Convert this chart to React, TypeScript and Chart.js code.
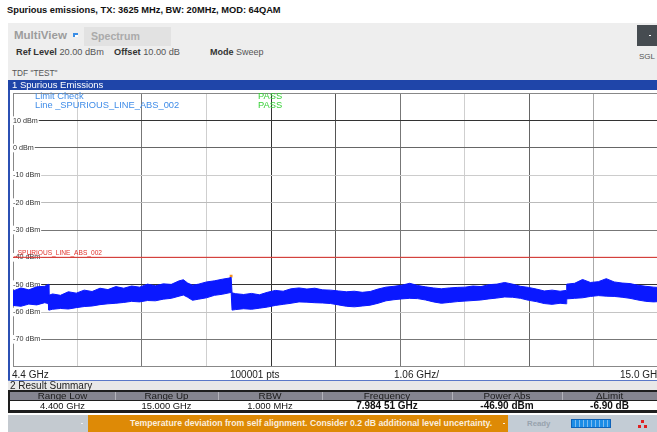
import React, { useEffect, useRef } from "react";
import { Chart, registerables } from "chart.js";

Chart.register(...registerables);

// ---- data ----
const freqGHz = [
  4.4, 4.53, 4.66, 4.79, 4.92, 4.98,
  4.99, 5.05, 5.18, 5.31, 5.44, 5.57, 5.7, 5.83, 5.96, 6.09, 6.22, 6.35, 6.48, 6.61, 6.74, 6.87, 7.0, 7.13, 7.2, 7.27, 7.35, 7.45, 7.58, 7.71, 7.84, 7.95, 7.985,
  8.0, 8.06, 8.19, 8.32, 8.45, 8.58, 8.71, 8.84, 8.97, 9.1, 9.23, 9.36, 9.49, 9.62, 9.75, 9.88, 10.01, 10.14, 10.27, 10.4, 10.53, 10.66, 10.79, 10.92, 11.05, 11.18, 11.31, 11.44, 11.57, 11.7, 11.83, 11.96, 12.09, 12.22, 12.35, 12.48, 12.61, 12.74, 12.87, 13.0, 13.13, 13.26, 13.39, 13.49,
  13.5, 13.63, 13.76, 13.89, 14.02, 14.15, 14.28, 14.41, 14.54, 14.67, 14.8, 14.93, 15.0,
];
const peakDbm = [
  -52.3, -51.2, -51.9, -50.8, -50.6, -49.9,
  -53.9, -53.4, -53.9, -52.6, -53.1, -52.0, -52.5, -51.3, -51.8, -50.7, -51.3, -50.5, -50.9, -49.8, -50.4, -49.7, -49.9, -48.6, -48.2, -49.4, -50.2, -49.8, -49.0, -48.6, -48.0, -47.6, -47.3,
  -53.0, -53.3, -53.6, -53.2, -53.7, -52.8, -52.1, -52.4, -51.5, -51.2, -51.6, -51.3, -51.9, -52.0, -52.3, -52.6, -52.4, -52.8, -52.5, -51.6, -50.9, -50.6, -50.2, -49.5, -50.3, -50.8, -51.2, -51.5, -51.2, -51.0, -50.9, -50.5, -50.7, -50.0, -49.8, -49.2, -49.8, -50.6, -51.0, -51.6, -52.3, -52.0, -52.4, -52.1,
  -49.8, -49.5, -48.1, -49.2, -48.9, -47.8, -49.0, -49.4, -49.6, -50.2, -50.6, -50.9, -51.0,
];
const floorDbm = [
  -57.6, -57.9, -57.1, -57.4, -56.6, -56.9,
  -59.3, -59.0, -58.7, -58.9, -58.4, -58.0, -57.8, -57.3, -57.0, -56.8, -56.5, -56.1, -56.3, -55.8, -55.9, -55.3, -55.0, -54.2, -53.8, -54.6, -55.7, -55.3, -54.8, -53.9, -53.5, -53.0, -52.8,
  -59.3, -59.1, -58.8, -59.0, -58.6, -58.2, -57.6, -57.2, -56.8, -56.3, -56.4, -56.6, -56.7, -56.9, -57.4, -57.9, -58.1, -57.8, -57.5, -56.8, -55.9, -55.5, -55.2, -55.0, -55.1, -55.6, -56.3, -56.8, -56.5, -56.2, -56.0, -55.8, -55.6, -55.2, -54.9, -54.5, -54.6, -55.0, -55.7, -56.2, -56.9, -57.2, -56.8, -57.0,
  -55.2, -55.0, -54.8, -54.3, -54.0, -54.2, -54.3, -54.6, -55.0, -55.6, -56.1, -56.3, -56.2,
];
const xTicksGHz = [4.4, 5.46, 6.52, 7.58, 8.64, 9.7, 10.76, 11.82, 12.88, 13.94, 15.0];
const yTicksDbm = [20, 10, 0, -10, -20, -30, -40, -50, -60, -70, -80];
const limitLevelDbm = -40;
const limitName = "_SPURIOUS_LINE_ABS_002";
const markerFreqGHz = 7.98451;
const markerLevelDbm = -46.9;

const tableHeaders = ["Range Low", "Range Up", "RBW", "Frequency", "Power Abs", "\u0394Limit"];
const tableValues = ["4.400 GHz", "15.000 GHz", "1.000 MHz", "7.984 51 GHz", "-46.90 dBm", "-6.90 dB"];

const FONT = "'Liberation Sans', Arial, sans-serif";
const TRACE = "#0a18ff";

const yGridColors: Record<string, string> = {
  "20": "#888", "10": "#333", "0": "#666", "-10": "#ccc", "-20": "#bbb",
  "-30": "#777", "-40": "#999", "-50": "#333", "-60": "#c4c4c4", "-70": "#777", "-80": "#888",
};
const xGridColors = ["#888", "#cfcfcf", "#777", "#cfcfcf", "#333", "#555", "#777", "#cfcfcf", "#666", "#aaa", "#888"];

const limitLabelPlugin = {
  id: "limitLabel",
  afterDatasetsDraw(chart: any) {
    const { ctx, chartArea, scales } = chart;
    const y = scales.y.getPixelForValue(limitLevelDbm);
    ctx.save();
    ctx.font = `6.6px ${FONT}`;
    ctx.fillStyle = "#e0302a";
    ctx.textBaseline = "bottom";
    ctx.textAlign = "left";
    ctx.fillText(limitName, chartArea.left + 1, y - 1);
    ctx.restore();
  },
};

function Txt(p: { x: number; y: number; s: number; c?: string; b?: boolean; children: any; center?: boolean; w?: number }) {
  return (
    <div
      style={{
        position: "absolute",
        left: p.x,
        top: p.y - p.s * 0.6,
        fontSize: p.s,
        lineHeight: `${p.s * 1.2}px`,
        color: p.c || "#222",
        fontWeight: p.b ? "bold" : "normal",
        whiteSpace: "nowrap",
        width: p.w,
        textAlign: p.center ? "center" : "left",
      }}
    >
      {p.children}
    </div>
  );
}

function Box(p: { x: number; y: number; w: number; h: number; bg: string; style?: any }) {
  return <div style={{ position: "absolute", left: p.x, top: p.y, width: p.w, height: p.h, background: p.bg, ...(p.style || {}) }} />;
}

export default function App() {
  const canvasRef = useRef<HTMLCanvasElement | null>(null);

  useEffect(() => {
    const canvas = canvasRef.current;
    if (!canvas) return;
    const chart = new Chart(canvas, {
      type: "line",
      data: {
        datasets: [
          {
            label: "peak",
            data: freqGHz.map((f, i) => ({ x: f, y: peakDbm[i] })),
            borderColor: TRACE,
            borderWidth: 1,
            pointRadius: 0,
            backgroundColor: TRACE,
            fill: "+1",
            tension: 0,
          },
          {
            label: "floor",
            data: freqGHz.map((f, i) => ({ x: f, y: floorDbm[i] })),
            borderColor: TRACE,
            borderWidth: 1,
            pointRadius: 0,
            fill: false,
            tension: 0,
          },
          {
            label: "limit",
            data: [
              { x: xTicksGHz[0], y: limitLevelDbm },
              { x: xTicksGHz[xTicksGHz.length - 1], y: limitLevelDbm },
            ],
            borderColor: "#e0302a",
            borderWidth: 1,
            pointRadius: 0,
            fill: false,
          },
          {
            label: "marker",
            data: [{ x: markerFreqGHz, y: markerLevelDbm }],
            showLine: false,
            pointStyle: "rect",
            pointRadius: 2,
            pointBackgroundColor: "#f59322",
            pointBorderWidth: 0,
            borderColor: "#f59322",
          } as any,
        ],
      },
      options: {
        animation: false,
        responsive: false,
        maintainAspectRatio: false,
        layout: { padding: { left: 1, right: 2, top: 1, bottom: 1 } },
        plugins: { legend: { display: false }, tooltip: { enabled: false } },
        scales: {
          x: {
            type: "linear",
            min: xTicksGHz[0],
            max: xTicksGHz[xTicksGHz.length - 1],
            afterBuildTicks: (s: any) => {
              s.ticks = xTicksGHz.map((v) => ({ value: v }));
            },
            ticks: { display: false },
            border: { display: false },
            grid: {
              drawTicks: false,
              lineWidth: 1,
              color: (ctx: any) => xGridColors[ctx.index] || "#888",
            },
          },
          y: {
            type: "linear",
            min: yTicksDbm[yTicksDbm.length - 1],
            max: yTicksDbm[0],
            afterBuildTicks: (s: any) => {
              s.ticks = yTicksDbm.map((v) => ({ value: v }));
            },
            border: { display: false },
            grid: {
              drawTicks: false,
              lineWidth: 1,
              color: (ctx: any) => (ctx.tick ? yGridColors[String(ctx.tick.value)] || "#888" : "#888"),
            },
            ticks: {
              mirror: true,
              padding: 0,
              color: "#333",
              font: { family: FONT, size: 7.2 },
              showLabelBackdrop: true,
              backdropPadding: { left: 0, right: 1, top: 0, bottom: 0 },
              backdropColor: (ctx: any) =>
                ctx.tick && (ctx.tick.value === 20 || ctx.tick.value === -80) ? "rgba(0,0,0,0)" : "#ffffff",
              callback: (v: any) => (v === 20 || v === -80 ? "" : `${v} dBm`),
            },
          },
        },
      } as any,
      plugins: [limitLabelPlugin],
    });
    return () => chart.destroy();
  }, []);

  const colEdges = [10, 115, 218, 322, 452, 562, 657];

  return (
    <div
      style={{
        position: "fixed",
        left: 0,
        top: 0,
        width: 657,
        height: 432,
        overflow: "hidden",
        background: "#ffffff",
        fontFamily: FONT,
      }}
    >
      {/* title */}
      <Txt x={7} y={11} s={9.3} b c="#111">Spurious emissions, TX: 3625 MHz, BW: 20MHz, MOD: 64QAM</Txt>

      {/* toolbar */}
      <Box x={8} y={23} w={649} h={57} bg="#eeeeee" />
      <Txt x={14} y={36} s={11.5} b c="#9c9c9c">MultiView</Txt>
      <Box x={73} y={33} w={5} h={4} bg="#3a8ee6" />
      <Box x={75} y={35} w={3} h={2} bg="#ffffff" />
      <Box x={84} y={27} w={87} h={19} bg="#e2e2e2" />
      <Txt x={91} y={36} s={10.6} b c="#aaaaaa">Spectrum</Txt>
      <Box x={637} y={25} w={20} h={21} bg="#464c51" />
      <Box x={649} y={35} w={2} h={1} bg="#ffffff" />
      <Txt x={639} y={57} s={8} c="#555">SGL</Txt>

      <div style={{ position: "absolute", left: 16, top: 47, fontSize: 9.2, lineHeight: "11px", whiteSpace: "nowrap", color: "#555" }}>
        <b style={{ color: "#333" }}>Ref Level</b> 20.00 dBm&nbsp;&nbsp;&nbsp; <b style={{ color: "#333" }}>Offset</b> 10.00 dB
      </div>
      <div style={{ position: "absolute", left: 210, top: 47, fontSize: 9, lineHeight: "11px", whiteSpace: "nowrap", color: "#555" }}>
        <b style={{ color: "#333" }}>Mode</b> Sweep
      </div>
      <Txt x={12} y={74} s={8.3} c="#555">TDF "TEST"</Txt>

      {/* diagram */}
      <div style={{ position: "absolute", left: 9, top: 89, width: 653, height: 282 }}>
        <canvas ref={canvasRef} width={653} height={282} style={{ display: "block" }} />
      </div>
      <Box x={8} y={80} w={649} h={10} bg="#1f45a9" />
      <Txt x={12} y={85} s={9.5} c="#ffffff">1 Spurious Emissions</Txt>
      <Box x={8} y={90} w={2} h={291} bg="#2b50b4" />

      <Txt x={35} y={96.5} s={9.3} c="#3f8ce8">Limit Check</Txt>
      <Txt x={35} y={106} s={9.3} c="#3f8ce8">Line _SPURIOUS_LINE_ABS_002</Txt>
      <Txt x={258} y={96.5} s={9.3} c="#35d035">PASS</Txt>
      <Txt x={258} y={106} s={9.3} c="#35d035">PASS</Txt>

      {/* x label strip */}
      <Box x={10} y={371} w={647} h={9} bg="#ffffff" />
      <Txt x={12} y={375} s={10} c="#222">4.4 GHz</Txt>
      <Txt x={230} y={375} s={10} c="#222">100001 pts</Txt>
      <Txt x={394} y={375} s={10} c="#222">1.06 GHz/</Txt>
      <Txt x={620} y={375} s={10} c="#222">15.0 GHz</Txt>
      <Box x={8} y={380} w={649} h={1} bg="#5a78c8" />

      {/* result summary */}
      <Box x={8} y={381} w={649} h={10} bg="#e8e8e8" />
      <Txt x={10} y={386} s={10} c="#222">2 Result Summary</Txt>
      <Box x={8} y={390} w={649} h={23} bg="#1e1e1e" />
      <Box x={10} y={392} w={647} h={8} bg="#858590" />
      <Box x={10} y={401} w={647} h={9} bg="#ffffff" />
      {colEdges.slice(1, -1).map((x, i) => (
        <Box key={"d" + i} x={x} y={392} w={1} h={8} bg="#b4b4bc" />
      ))}
      {tableHeaders.map((h, i) => (
        <Txt key={"h" + i} x={colEdges[i]} w={colEdges[i + 1] - colEdges[i]} center y={396} s={9.8} c="#1a1a1a">
          {h}
        </Txt>
      ))}
      {tableValues.map((v, i) => (
        <Txt key={"v" + i} x={colEdges[i]} w={colEdges[i + 1] - colEdges[i]} center y={405.5} s={i >= 3 ? 10 : 9.4} b={i >= 3} c="#111">
          {v}
        </Txt>
      ))}

      {/* status bar */}
      <Box x={8} y={415} w={80} h={17} bg="#c4cad0" />
      <Box x={81} y={423} w={2} h={1} bg="#eef0f2" />
      <Box x={88} y={415} w={420} h={17} bg="#de8a06" />
      <Txt x={130} y={423.5} s={8.7} b c="#fbeede">Temperature deviation from self alignment. Consider 0.2 dB additional level uncertainty.</Txt>
      <Box x={503} y={423} w={2} h={1} bg="#fbeede" />
      <Box x={508} y={415} w={149} h={17} bg="#c3ccd5" />
      <Txt x={527} y={423.5} s={7.8} b c="#98a3ae">Ready</Txt>
      <div
        style={{
          position: "absolute",
          left: 571,
          top: 419,
          width: 40,
          height: 9,
          background: "repeating-linear-gradient(90deg, #1c8de6 0px, #1c8de6 3px, #7fbcef 3px, #7fbcef 4px)",
          border: "1px solid #0e62b8",
          boxSizing: "border-box",
        }}
      />
      <Box x={641} y={420} w={3} h={3} bg="#e02020" />
      <Box x={638} y={425} w={3} h={3} bg="#e02020" />
      <Box x={644} y={425} w={3} h={3} bg="#e02020" />
    </div>
  );
}
